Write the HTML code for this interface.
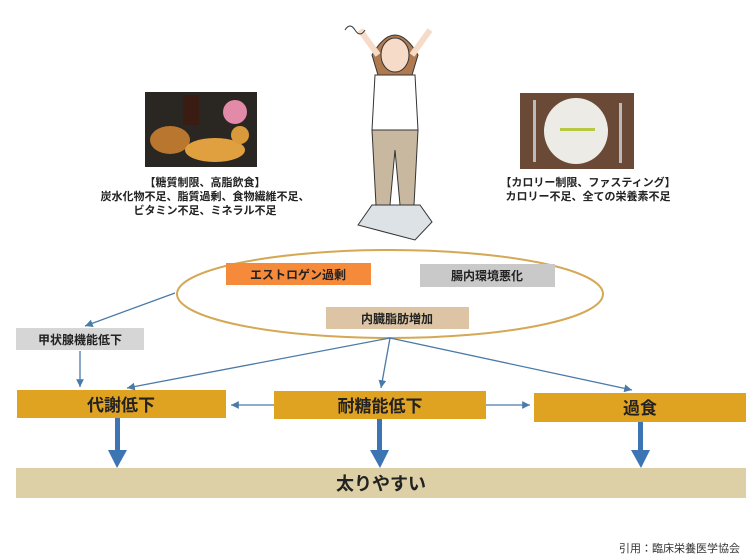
<!DOCTYPE html>
<html><head><meta charset="utf-8"><style>
body{margin:0;background:#fff;}
svg{display:block;font-family:"Liberation Sans","Noto Sans CJK JP",sans-serif;}
</style></head><body>
<svg width="750" height="560" viewBox="0 0 750 560" xmlns="http://www.w3.org/2000/svg">
<defs>
<marker id="a" markerWidth="8" markerHeight="8" refX="6" refY="3" orient="auto"><path d="M0,0 L6,3 L0,6 z" fill="#4a7aa8"/></marker>
</defs>
<!-- food photo -->
<rect x="145" y="92" width="112" height="75" fill="#2a2622"/>
<ellipse cx="170" cy="140" rx="20" ry="14" fill="#b8762e"/>
<rect x="183" y="95" width="16" height="30" fill="#3a1c12"/>
<circle cx="235" cy="112" r="12" fill="#e28aa8"/>
<ellipse cx="215" cy="150" rx="30" ry="12" fill="#e0a040"/>
<circle cx="240" cy="135" r="9" fill="#d89a3a"/>
<!-- plate -->
<rect x="520" y="93" width="114" height="76" fill="#6a4a36"/>
<ellipse cx="576" cy="131" rx="32" ry="33" fill="#ecebe6"/>
<rect x="560" y="128" width="35" height="3" fill="#b8c840"/>
<rect x="533" y="100" width="3" height="62" fill="#bbb"/>
<rect x="619" y="103" width="3" height="60" fill="#bbb"/>
<!-- texts -->
<g font-size="11" font-weight="bold" fill="#222" text-anchor="middle">
<text x="205" y="186">【糖質制限、高脂飲食】</text>
<text x="205" y="200">炭水化物不足、脂質過剰、食物繊維不足、</text>
<text x="205" y="214">ビタミン不足、ミネラル不足</text>
<text x="588" y="186">【カロリー制限、ファスティング】</text>
<text x="588" y="200">カロリー不足、全ての栄養素不足</text>
</g>
<!-- woman -->
<g stroke="#333" stroke-width="1">
<path d="M372,55 Q395,15 418,55 L412,75 L378,75 Z" fill="#b07a50"/>
<ellipse cx="395" cy="55" rx="14" ry="17" fill="#f6dcc8"/>
<path d="M360,30 L378,55 M430,30 L412,55" stroke-width="6" stroke="#f6dcc8"/>
<path d="M375,75 L415,75 L418,130 L372,130 Z" fill="#fff"/>
<path d="M372,130 L418,130 L414,205 L400,205 L395,150 L390,205 L376,205 Z" fill="#c9b8a0"/>
<path d="M358,225 L372,205 L420,205 L432,222 L415,240 Z" fill="#dde2e6"/>
</g>
<path d="M345,30 q5,-8 10,0 q5,8 10,0" stroke="#333" fill="none"/>
<!-- ellipse -->
<ellipse cx="390" cy="294" rx="213" ry="44" fill="none" stroke="#d4a855" stroke-width="2"/>
<rect x="226" y="263" width="145" height="22" fill="#f58a3a"/>
<rect x="420" y="264" width="135" height="23" fill="#c9c9c9"/>
<rect x="326" y="307" width="143" height="22" fill="#dcc4a4"/>
<rect x="16" y="328" width="128" height="22" fill="#d6d6d6"/>
<rect x="17" y="390" width="209" height="28" fill="#e0a221"/>
<rect x="274" y="391" width="212" height="28" fill="#e0a221"/>
<rect x="534" y="393" width="212" height="29" fill="#e0a221"/>
<rect x="16" y="468" width="730" height="30" fill="#ddd0a6"/>
<g font-weight="bold" fill="#222" text-anchor="middle">
<text x="298" y="279" font-size="12">エストロゲン過剰</text>
<text x="487" y="280" font-size="12">腸内環境悪化</text>
<text x="397" y="323" font-size="12">内臓脂肪増加</text>
<text x="80" y="344" font-size="12">甲状腺機能低下</text>
<text x="121" y="411" font-size="17">代謝低下</text>
<text x="380" y="412" font-size="17">耐糖能低下</text>
<text x="640" y="414" font-size="17">過食</text>
<text x="381" y="490" font-size="18">太りやすい</text>
</g>
<g stroke="#4a7aa8" stroke-width="1.3" fill="none" marker-end="url(#a)">
<line x1="175" y1="293" x2="85" y2="326"/>
<line x1="80" y1="351" x2="80" y2="387"/>
<line x1="390" y1="338" x2="127" y2="388"/>
<line x1="390" y1="338" x2="381" y2="388"/>
<line x1="390" y1="338" x2="632" y2="390"/>
<line x1="274" y1="405" x2="231" y2="405"/>
<line x1="486" y1="405" x2="530" y2="405"/>
</g>
<g fill="#3d74b4">
<rect x="115" y="418" width="5" height="33"/><path d="M108,450 L127,450 L117,468 Z"/>
<rect x="377" y="419" width="5" height="32"/><path d="M370,450 L389,450 L380,468 Z"/>
<rect x="638" y="422" width="5" height="29"/><path d="M631,450 L650,450 L641,468 Z"/>
</g>
<text x="740" y="552" font-size="11" text-anchor="end" fill="#333">引用：臨床栄養医学協会</text>
</svg>
</body></html>
